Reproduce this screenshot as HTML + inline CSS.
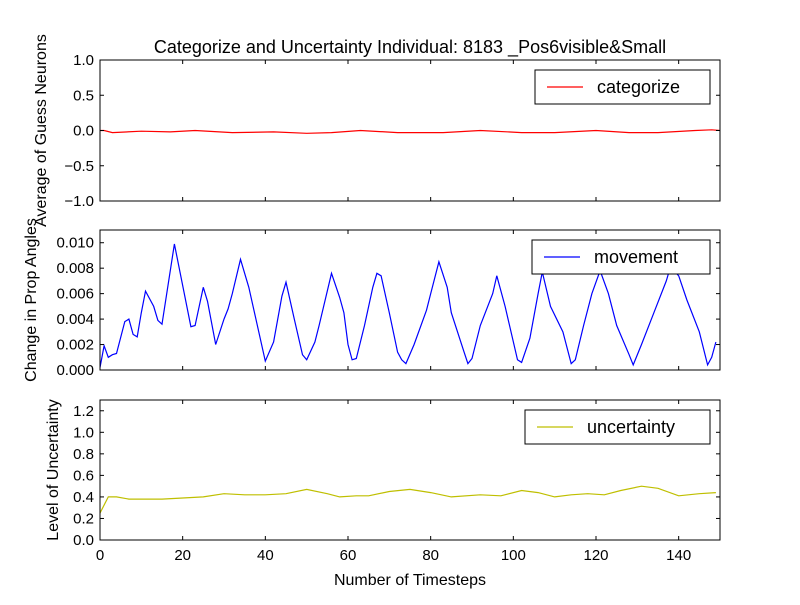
<!DOCTYPE html>
<html><head><meta charset="utf-8"><style>
body{margin:0;background:#fff;}
svg text{font-family:"Liberation Sans","DejaVu Sans",sans-serif;}
</style></head><body>
<svg id="c" width="800" height="600" xmlns="http://www.w3.org/2000/svg"></svg>
<script>
const catT=[0,1,3,10,17,23,32,42,50,56,63,72,83,92,102,110,120,128,135,144,148,150];
const catV=[0,0,-0.03,-0.01,-0.02,0,-0.03,-0.02,-0.04,-0.03,0,-0.03,-0.03,0,-0.03,-0.03,0,-0.03,-0.03,0,0.01,0];
const movT=[0,1,2,3,4,6,7,8,9,10,11,13,14,15,18,22,23,25,26,28,30,31,32,34,36,40,42,44,45,47,49,50,52,53,56,58,59,60,61,62,64,66,67,68,70,72,73,74,76,79,80,82,84,85,88,89,90,92,95,96,98,101,102,104,106,107,109,112,114,115,117,119,121,123,125,128,129,131,134,137,138,140,142,145,147,148,149];
const movV=[0.0002,0.0019,0.001,0.0012,0.0013,0.0038,0.004,0.0028,0.0026,0.0045,0.0062,0.005,0.0039,0.0036,0.0099,0.0034,0.0035,0.0065,0.0054,0.002,0.004,0.0048,0.006,0.0087,0.0065,0.0007,0.0022,0.0058,0.0069,0.004,0.0012,0.0008,0.0022,0.0035,0.0076,0.0057,0.0045,0.002,0.0008,0.0009,0.0035,0.0065,0.0076,0.0074,0.0045,0.0014,0.0008,0.0005,0.002,0.0047,0.006,0.0085,0.0065,0.0045,0.0015,0.0005,0.0009,0.0035,0.006,0.0074,0.005,0.0008,0.0006,0.0025,0.006,0.0077,0.005,0.003,0.0005,0.0008,0.0035,0.006,0.0078,0.006,0.0035,0.0012,0.0004,0.002,0.0045,0.007,0.0081,0.0074,0.0055,0.003,0.0004,0.001,0.0022];
const uncT=[0,2,4,7,15,20,25,30,35,40,45,50,55,58,62,65,70,75,80,85,92,97,102,106,110,114,118,122,126,131,135,140,145,149];
const uncV=[0.25,0.4,0.4,0.38,0.38,0.39,0.4,0.43,0.42,0.42,0.43,0.47,0.43,0.4,0.41,0.41,0.45,0.47,0.44,0.4,0.42,0.41,0.46,0.44,0.4,0.42,0.43,0.42,0.46,0.5,0.48,0.41,0.43,0.44];
const xTicks=[0,20,40,60,80,100,120,140];
const p1Ticks=[-1,-0.5,0,0.5,1], p1Lab=["\u22121.0","\u22120.5","0.0","0.5","1.0"];
const p2Ticks=[0,0.002,0.004,0.006,0.008,0.010], p2Lab=["0.000","0.002","0.004","0.006","0.008","0.010"];
const p3Ticks=[0,0.2,0.4,0.6,0.8,1.0,1.2], p3Lab=["0.0","0.2","0.4","0.6","0.8","1.0","1.2"];
const NS="http://www.w3.org/2000/svg", svg=document.getElementById('c');
function el(t,a,txt){const e=document.createElementNS(NS,t);for(const k in a)e.setAttribute(k,a[k]);if(txt!==undefined)e.textContent=txt;svg.appendChild(e);return e;}
const L=100,R=720;
const xs=t=>L+(t/150)*(R-L);
function panel(name,top,bot,ymin,ymax,ticks,labs,T,V,color,leg,lx,ylabel,ylx,showX){
  const ys=v=>bot-(v-ymin)/(ymax-ymin)*(bot-top);
  let d=T.map((t,i)=>(i?'L':'M')+xs(t).toFixed(1)+' '+ys(V[i]).toFixed(1)).join(' ');
  const cp=el('clipPath',{id:'cl'+name});const r=document.createElementNS(NS,'rect');r.setAttribute('x',L);r.setAttribute('y',top);r.setAttribute('width',R-L);r.setAttribute('height',bot-top);cp.appendChild(r);
  const ln=el('path',{d:d,fill:'none',stroke:color,'stroke-width':1.2,'clip-path':'url(#cl'+name+')'});
  
  
  ticks.forEach((v,i)=>{const y=ys(v);
    el('line',{x1:L,x2:L+4,y1:y,y2:y,stroke:'#000'});el('line',{x1:R,x2:R-4,y1:y,y2:y,stroke:'#000'});
    const t=el('text',{x:L-6,y:y+5,'text-anchor':'end','font-size':15},labs[i]);
    
    });
  xTicks.forEach(v=>{const x=xs(v);
    el('line',{x1:x,x2:x,y1:bot,y2:bot-4,stroke:'#000'});el('line',{x1:x,x2:x,y1:top,y2:top+4,stroke:'#000'});
    if(showX){const t=el('text',{x:x,y:bot+20,'text-anchor':'middle','font-size':15},String(v));
      
      }});
  const fr=el('rect',{x:L,y:top,width:R-L,height:bot-top,fill:'none',stroke:'#000','stroke-width':1});
  
  
  const ly=top+10;
  const lb=el('rect',{x:lx,y:ly,width:710-lx,height:34,fill:'#fff',stroke:'#000'});
  
  
  el('line',{x1:lx+12,x2:lx+48,y1:ly+17,y2:ly+17,stroke:color,'stroke-width':1.2});
  const lt=el('text',{x:lx+62,y:ly+23,'font-size':18},leg);
  
  
  const cy=(top+bot)/2;
  const yl=el('text',{x:ylx,y:cy,'text-anchor':'middle','font-size':16,transform:'rotate(-90 '+ylx+' '+cy+')'},ylabel);
  
  
}
panel('categorize',60,201,-1,1,p1Ticks,p1Lab,catT,catV,'#ff0000','categorize',535,'Average of Guess Neurons',46,false);
panel('movement',230,370,0,0.011,p2Ticks,p2Lab,movT,movV,'#0000ff','movement',532,'Change in Prop Angles',36,false);
panel('uncertainty',400,540,0,1.3,p3Ticks,p3Lab,uncT,uncV,'#bfbf00','uncertainty',525,'Level of Uncertainty',58,true);
const ti=el('text',{x:410,y:53,'text-anchor':'middle','font-size':18},'Categorize and Uncertainty Individual: 8183 _Pos6visible&Small');


const xl=el('text',{x:410,y:585,'text-anchor':'middle','font-size':16},'Number of Timesteps');


</script>
</body></html>
